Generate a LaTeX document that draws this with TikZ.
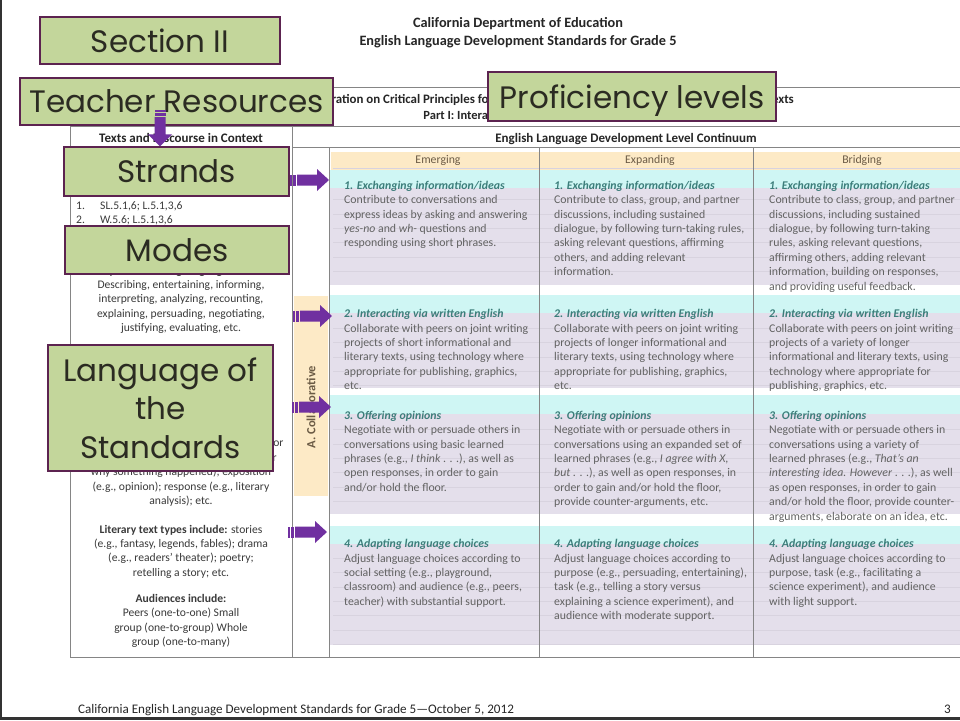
\documentclass[tikz,border=0pt]{standalone}
\usepackage{fontspec}
\setmainfont{Carlito}
\newfontfamily\boxfont{Poppins}
\usetikzlibrary{calc}
\definecolor{boxgreen}{HTML}{C3D69B}
\definecolor{boxedge}{HTML}{5C2350}
\definecolor{boxtext}{HTML}{2B2B22}
\definecolor{arrowpurple}{HTML}{7030A0}
\definecolor{peach}{HTML}{FDEAC6}
\definecolor{cyanband}{HTML}{CFF6F4}
\definecolor{lavender}{HTML}{E4DFEB}
\definecolor{gridgrey}{HTML}{858585}
\definecolor{faintline}{HTML}{D8D3DF}
\definecolor{tealtxt}{HTML}{3C7D7A}
\definecolor{bodygrey}{HTML}{626262}
\definecolor{leftgrey}{HTML}{3A3A3A}
\definecolor{hdrbrown}{HTML}{6B5B45}
\newcommand\ttl[1]{{\color{tealtxt}\bfseries\itshape #1}}
\newcommand\harrow[2]{%
  \fill[arrowpurple] ($(#1)+(7,-5.5)$) -- ($(#2)+(-12,-5.5)$) -- ($(#2)+(-12,-11)$) -- (#2) -- ($(#2)+(-12,11)$) -- ($(#2)+(-12,5.5)$) -- ($(#1)+(7,5.5)$) -- cycle;
  \fill[arrowpurple] ($(#1)+(0,-5.5)$) rectangle ($(#1)+(1.5,5.5)$);
  \fill[arrowpurple] ($(#1)+(3,-5.5)$) rectangle ($(#1)+(5.5,5.5)$);}
\newcommand\varrow[2]{%
  \fill[arrowpurple] ($(#1)+(-5.5,7)$) -- ($(#2)+(-5.5,-12)$) -- ($(#2)+(-12,-12)$) -- (#2) -- ($(#2)+(12,-12)$) -- ($(#2)+(5.5,-12)$) -- ($(#1)+(5.5,7)$) -- cycle;
  \fill[arrowpurple] ($(#1)+(-5.5,0)$) rectangle ($(#1)+(5.5,1.5)$);
  \fill[arrowpurple] ($(#1)+(-5.5,3)$) rectangle ($(#1)+(5.5,5.5)$);}
\begin{document}
\begin{tikzpicture}[x=1pt,y=-1pt,
  gbox/.style={draw=boxedge, line width=1.4pt, fill=boxgreen, text=boxtext,
    font=\boxfont\fontsize{31}{38.5}\selectfont, inner sep=0pt, align=center, text depth=0pt},
  cellnode/.style={anchor=base west, inner sep=0pt, text=bodygrey, font=\fontsize{11.8}{14.4}\selectfont},
  leftcol/.style={anchor=base, inner sep=0pt, text=leftgrey, font=\fontsize{11.6}{14.4}\selectfont},
  grid/.style={draw=gridgrey, line width=1pt},
  hdr/.style={inner sep=0pt, text=hdrbrown, font=\fontsize{11.8}{13}\selectfont},
  boldhdr/.style={inner sep=0pt, text=black!85, font=\bfseries\fontsize{13}{15}\selectfont},
  faint/.style={draw=faintline, line width=0.6pt}]
\useasboundingbox (0,0) rectangle (960,720);
\fill[white] (0,0) rectangle (960,720);
\fill[black!80] (0,0) rectangle (2,720);
\fill[black!80] (0,717) rectangle (960,720);

% page heading
\node[inner sep=0pt, font=\bfseries\fontsize{14.3}{16}\selectfont, text=black!85] (h1) at (518,24) {California Department of Education};
\node[inner sep=0pt, font=\bfseries\fontsize{14.3}{16}\selectfont, text=black!85] (h2) at (518,42) {English Language Development Standards for Grade 5};

% coloured bands
\fill[peach] (331,152) rectangle (960,170);
\fill[peach] (294,296) rectangle (328,496);
\fill[lavender] (330,170) rectangle (960,285);
\fill[lavender] (330,295) rectangle (960,388);
\fill[lavender] (330,395) rectangle (960,514);
\fill[lavender] (330,526) rectangle (960,645);
\fill[cyanband] (330,170) rectangle (960,188);
\fill[cyanband] (330,295) rectangle (960,313);
\fill[cyanband] (330,395) rectangle (960,414);
\fill[cyanband] (330,526) rectangle (960,544);
\foreach \yy in {199.5,213.9,...,285} {\draw[faint] (333,\yy) -- (960,\yy);}
\foreach \yy in {328,342.4,...,388} {\draw[faint] (333,\yy) -- (960,\yy);}
\foreach \yy in {429.5,443.9,...,514} {\draw[faint] (333,\yy) -- (960,\yy);}
\foreach \yy in {558,572.4,...,645} {\draw[faint] (333,\yy) -- (960,\yy);}
\draw[faint] (333,168) -- (960,168);

% table grid
\draw[grid] (70,87) -- (960,87);
\draw[grid] (70,126) -- (960,126);
\draw[grid] (292,147) -- (960,147);
\draw[grid] (70,87) -- (70,657);
\draw[grid] (292,126) -- (292,657);
\draw[grid] (329,147) -- (329,657);
\draw[grid] (539,147) -- (539,657);
\draw[grid] (753,147) -- (753,657);
\draw[grid] (70,657) -- (960,657);

% table titles
\node[inner sep=0pt, anchor=east, font=\bfseries\fontsize{12.9}{14}\selectfont, text=black!85] (t1) at (794,100) {Section 1: Elaboration on Critical Principles for Developing Language \& Cognition in Academic Contexts};
\node[inner sep=0pt, font=\bfseries\fontsize{12.5}{14}\selectfont, text=black!85] (t2) at (521,116) {Part I: Interacting in Meaningful Ways};
\node[boldhdr] (tdc) at (181,138) {Texts and Discourse in Context};
\node[boldhdr] (eldc) at (626,139) {English Language Development Level Continuum};
\node[hdr] (emg) at (438,160) {Emerging};
\node[hdr] (exp) at (650,160) {Expanding};
\node[hdr] (brg) at (862,160) {Bridging};
\node[rotate=90, inner sep=0pt, text=hdrbrown, font=\bfseries\fontsize{12.5}{14}\selectfont] (collab) at (311,407) {A. Collaborative};

% left column
\node[anchor=base west, inner sep=0pt, text=leftgrey, font=\fontsize{11.6}{14.4}\selectfont] (lnum) at (76,209.5) {\parbox[t]{20pt}{1.\\2.\\3.\\4.}};
\node[anchor=base west, inner sep=0pt, text=leftgrey, font=\fontsize{11.6}{14.4}\selectfont] (lstd) at (100,209.5) {\parbox[t]{180pt}{SL.5.1,6; L.5.1,3,6\\W.5.6; L.5.1,3,6\\SL.5.1,4,6; L.5.1,3,6\\W.5.4-5; SL.5.6; L.5.1,3,6}};
\node[leftcol] (lpurp) at (181,274) {\parbox[t]{220pt}{\centering \textbf{Purposes for using language include:}\\Describing, entertaining, informing,\\interpreting, analyzing, recounting,\\explaining, persuading, negotiating,\\justifying, evaluating, etc.}};
\node[leftcol] (linfo) at (181,374.9) {\parbox[t]{240pt}{\centering \textbf{Informational text types include:}\\description (e.g., science log entry);\\procedure (e.g., how to solve a\\mathematics problem); recount (e.g.,\\autobiography, science experiment\\results); information report (e.g., science or\\history report); explanation (e.g., how or\\why something happened); exposition\\(e.g., opinion); response (e.g., literary\\analysis); etc.}};
\node[leftcol] (llit) at (181,533) {\parbox[t]{220pt}{\centering \textbf{Literary text types include:} stories\\(e.g., fantasy, legends, fables); drama\\(e.g., readers' theater); poetry;\\retelling a story; etc.}};
\node[leftcol] (laud) at (181,602.5) {\parbox[t]{220pt}{\centering \textbf{Audiences include:}\\Peers (one-to-one) Small\\group (one-to-group) Whole\\group (one-to-many)}};

% cells row 1
\node[cellnode] (c11) at (344,181) {\parbox[t]{215pt}{\raggedright\ttl{1. Exchanging information/ideas}\\Contribute to conversations and\\express ideas by asking and answering\\\emph{yes-no} and \emph{wh-} questions and\\responding using short phrases.}};
\node[cellnode] (c12) at (554,181) {\parbox[t]{215pt}{\raggedright\ttl{1. Exchanging information/ideas}\\Contribute to class, group, and partner\\discussions, including sustained\\dialogue, by following turn-taking rules,\\asking relevant questions, affirming\\others, and adding relevant\\information.}};
\node[cellnode] (c13) at (769,181) {\parbox[t]{215pt}{\raggedright\ttl{1. Exchanging information/ideas}\\Contribute to class, group, and partner\\discussions, including sustained\\dialogue, by following turn-taking\\rules, asking relevant questions,\\affirming others, adding relevant\\information, building on responses,\\and providing useful feedback.}};
% row 2
\node[cellnode] (c21) at (344,309.5) {\parbox[t]{215pt}{\raggedright\ttl{2. Interacting via written English}\\Collaborate with peers on joint writing\\projects of short informational and\\literary texts, using technology where\\appropriate for publishing, graphics,\\etc.}};
\node[cellnode] (c22) at (554,309.5) {\parbox[t]{215pt}{\raggedright\ttl{2. Interacting via written English}\\Collaborate with peers on joint writing\\projects of longer informational and\\literary texts, using technology where\\appropriate for publishing, graphics,\\etc.}};
\node[cellnode] (c23) at (769,309.5) {\parbox[t]{215pt}{\raggedright\ttl{2. Interacting via written English}\\Collaborate with peers on joint writing\\projects of a variety of longer\\informational and literary texts, using\\technology where appropriate for\\publishing, graphics, etc.}};
% row 3
\node[cellnode] (c31) at (344,411) {\parbox[t]{215pt}{\raggedright\ttl{3. Offering opinions}\\Negotiate with or persuade others in\\conversations using basic learned\\phrases (e.g., \emph{I think} . . .), as well as\\open responses, in order to gain\\and/or hold the floor.}};
\node[cellnode] (c32) at (554,411) {\parbox[t]{215pt}{\raggedright\ttl{3. Offering opinions}\\Negotiate with or persuade others in\\conversations using an expanded set of\\learned phrases (e.g., \emph{I agree with X,}\\\emph{but} . . .), as well as open responses, in\\order to gain and/or hold the floor,\\provide counter-arguments, etc.}};
\node[cellnode] (c33) at (769,411) {\parbox[t]{215pt}{\raggedright\ttl{3. Offering opinions}\\Negotiate with or persuade others in\\conversations using a variety of\\learned phrases (e.g., \emph{That's an}\\\emph{interesting idea. However} . . .), as well\\as open responses, in order to gain\\and/or hold the floor, provide counter-\\arguments, elaborate on an idea, etc.}};
% row 4
\node[cellnode] (c41) at (344,539.5) {\parbox[t]{215pt}{\raggedright\ttl{4. Adapting language choices}\\Adjust language choices according to\\social setting (e.g., playground,\\classroom) and audience (e.g., peers,\\teacher) with substantial support.}};
\node[cellnode] (c42) at (554,539.5) {\parbox[t]{215pt}{\raggedright\ttl{4. Adapting language choices}\\Adjust language choices according to\\purpose (e.g., persuading, entertaining),\\task (e.g., telling a story versus\\explaining a science experiment), and\\audience with moderate support.}};
\node[cellnode] (c43) at (769,539.5) {\parbox[t]{215pt}{\raggedright\ttl{4. Adapting language choices}\\Adjust language choices according to\\purpose, task (e.g., facilitating a\\science experiment), and audience\\with light support.}};

% footer
\node[anchor=base west, inner sep=0pt, font=\fontsize{13.1}{15}\selectfont, text=black!85] (foot) at (78,713) {California English Language Development Standards for Grade 5---October 5, 2012};
\node[anchor=base east, inner sep=0pt, font=\fontsize{13.1}{15}\selectfont, text=black!85] (pnum) at (951,713) {3};

% green callout boxes
\node[gbox, minimum width=240pt, minimum height=47pt] (sec) at (160,40.5) {Section II};
\node[gbox, minimum width=313pt, minimum height=47pt] (teach) at (176.5,101.5) {Teacher Resources};
\node[gbox, minimum width=225pt, minimum height=49pt] (strands) at (176.5,171.5) {Strands};
\node[gbox, minimum width=224pt, minimum height=48pt] (modes) at (177,250) {Modes};
\node[gbox, minimum width=225pt, minimum height=126pt, text depth=] (lang) at (160.5,408) {Language of\\the\\Standards};
\node[gbox, minimum width=288pt, minimum height=49pt] (prof) at (632,96.5) {Proficiency levels};

% arrows
\coordinate (va) at (160,110);
\coordinate (vb) at (strands.north -| va);
\varrow{va}{vb}
\coordinate (a1s) at (290,180);
\coordinate (a1e) at (329,180);
\coordinate (a2s) at (293,316);
\coordinate (a2e) at (332,316);
\coordinate (a3s) at (292,407);
\coordinate (a3e) at (331,407);
\coordinate (a4s) at (288,532);
\coordinate (a4e) at (327,532);
\harrow{a1s}{a1e}
\harrow{a2s}{a2e}
\harrow{a3s}{a3e}
\harrow{a4s}{a4e}
\end{tikzpicture}
\end{document}
